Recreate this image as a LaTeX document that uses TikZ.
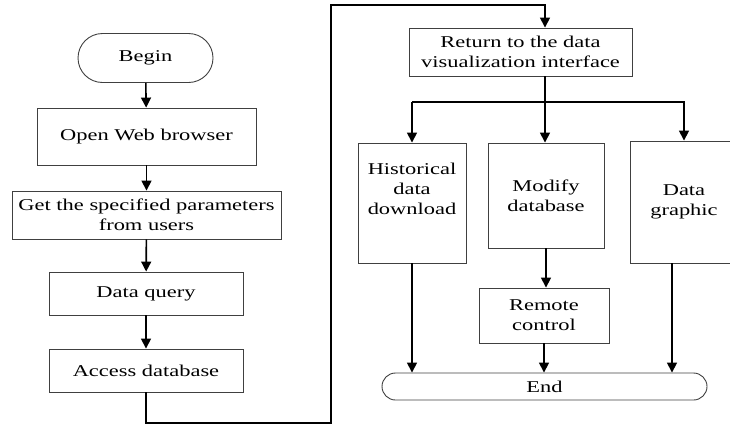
\documentclass[tikz,border=0pt]{standalone}
\usepackage{fontspec}
\setmainfont[FakeStretch=1.36]{Liberation Serif}
\usetikzlibrary{arrows.meta}
\begin{document}
\begin{tikzpicture}[x=1pt,y=-1pt,
  box/.style={draw=black!75, line width=0.9pt, rectangle, inner sep=0pt, align=center,
    font=\fontsize{16.5}{20}\selectfont},
  term/.style={box, rounded corners=#1},
  conn/.style={line width=1.6pt, draw=black},
  arr/.style={conn, -{Triangle[length=10pt,width=10pt]}},
  lbl/.style={align=center, inner sep=0pt, font=\fontsize{16.5}{20}\selectfont}]
\useasboundingbox (0,0) rectangle (730,426);
\clip (0,0) rectangle (730,426);
% left column
\node[term=24.5pt, minimum width=135pt, minimum height=49pt] (begin) at (145.5,58) {Begin};
\node[box, minimum width=219pt, minimum height=57pt] (open) at (146.5,136.5) {Open Web browser};
\node[box, minimum width=269pt, minimum height=48pt] (get) at (146.5,215) {Get the specified parameters\\from users};
\node[box, minimum width=194pt, minimum height=43pt] (query) at (146,293.5) {Data query};
\node[box, minimum width=194pt, minimum height=43pt] (access) at (146,370.5) {Access database};
% right part
\node[box, minimum width=223pt, minimum height=48pt] (ret) at (520.5,52) {Return to the data\\visualization interface};
\node[box, minimum width=108pt, minimum height=120pt] (hist) at (412,203) {};
\node[lbl] (histtext) at (412,189) {Historical\\data\\download};
\node[box, minimum width=116pt, minimum height=105pt] (modify) at (546,195.5) {Modify\\database};
\node[box, minimum width=108pt, minimum height=122pt] (graphic) at (684,202) {Data\\graphic};
\node[box, minimum width=130pt, minimum height=55pt] (remote) at (544,315.5) {Remote\\control};
\node[term=13.5pt, minimum width=325pt, minimum height=27pt] (end) at (544.5,386.5) {End};
% coordinates
\coordinate (c1) at (146,423);
\coordinate (c2) at (331,423);
\coordinate (c3) at (331,5);
\coordinate (c4) at (545,5);
\coordinate (rb) at (545,76);
\coordinate (br) at (545,102);
\coordinate (bl) at (412,102);
\coordinate (brr) at (684,102);
\coordinate (gb) at (672,263);
% connectors
\draw[arr] (begin) -- (open);
\draw[arr] (open) -- (get);
\draw[arr] (get) -- (query);
\draw[arr] (query) -- (access);
\draw[arr] (access.south) -- (c1) -- (c2) -- (c3) -- (c4) -- (c4 |- ret.north);
\draw[conn] (rb) -- (br);
\draw[arr] (bl) -| (hist.north);
\draw[arr] (br) -- (br |- modify.north);
\draw[arr] (bl) -- (brr) -- (graphic.north);
\draw[arr] (modify) -- (modify.south |- remote.north);
\draw[arr] (hist.south) -- (hist.south |- end.north);
\draw[arr] (remote.south) -- (remote.south |- end.north);
\draw[arr] (gb) -- (gb |- end.north);
\end{tikzpicture}
\end{document}
